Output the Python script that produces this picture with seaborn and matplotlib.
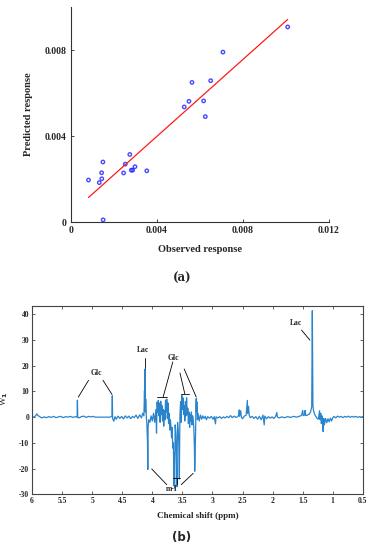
import numpy as np
import pandas as pd
import matplotlib
matplotlib.use("Agg")
import matplotlib.pyplot as plt
from matplotlib.ticker import FormatStrFormatter
import seaborn as sns

sns.set_style("ticks")
plt.rcParams['font.family'] = ['Liberation Serif', 'DejaVu Serif']
plt.rcParams['font.weight'] = 'bold'

# (a) observed vs predicted response
observed = [0.00082, 0.00132, 0.00143, 0.00144, 0.00149, 0.00150, 0.00245,
            0.00253, 0.00274, 0.00281, 0.00287, 0.00298, 0.00353, 0.00527,
            0.00549, 0.00563, 0.00617, 0.00625, 0.00650, 0.00707, 0.01008]
predicted = [0.00196, 0.00184, 0.00230, 0.00202, 0.00280, 0.00011, 0.00229,
             0.00270, 0.00315, 0.00242, 0.00242, 0.00258, 0.00239, 0.00536,
             0.00562, 0.00650, 0.00564, 0.00491, 0.00658, 0.00791, 0.00908]

# (b) loading spectrum W1 vs chemical shift
ppm = [6.00, 5.97, 5.94, 5.92, 5.90, 5.87, 5.84, 5.80, 5.76, 5.72, 5.68, 5.64,
       5.60, 5.56, 5.52, 5.48, 5.44, 5.40, 5.36, 5.32, 5.28, 5.25, 5.245, 5.24,
       5.22, 5.18, 5.14, 5.10, 5.06, 5.02, 4.99, 4.95, 4.70, 4.67, 4.665, 4.66,
       4.64, 4.62, 4.60, 4.57, 4.54, 4.51, 4.48, 4.45, 4.42, 4.39, 4.36, 4.33,
       4.30, 4.27, 4.24, 4.21, 4.18, 4.16, 4.14, 4.13, 4.125, 4.12, 4.115, 4.11,
       4.10, 4.09, 4.08, 4.075, 4.07, 4.06, 4.04, 4.02, 4.00, 3.98, 3.96, 3.94,
       3.93, 3.92, 3.91, 3.90, 3.89, 3.88, 3.87, 3.86, 3.85, 3.84, 3.83, 3.82,
       3.81, 3.80, 3.79, 3.78, 3.77, 3.76, 3.75, 3.74, 3.73, 3.72, 3.71, 3.70,
       3.69, 3.68, 3.67, 3.66, 3.65, 3.64, 3.635, 3.63, 3.62, 3.61, 3.60, 3.59,
       3.585, 3.58, 3.57, 3.56, 3.55, 3.545, 3.54, 3.53, 3.52, 3.51, 3.50, 3.49,
       3.48, 3.47, 3.46, 3.45, 3.44, 3.43, 3.42, 3.41, 3.40, 3.39, 3.38, 3.37,
       3.36, 3.35, 3.34, 3.33, 3.32, 3.31, 3.30, 3.295, 3.29, 3.28, 3.275, 3.27,
       3.265, 3.26, 3.25, 3.24, 3.22, 3.20, 3.18, 3.16, 3.14, 3.12, 3.10, 3.08,
       3.05, 3.02, 2.99, 2.97, 2.95, 2.94, 2.91, 2.88, 2.85, 2.82, 2.79, 2.76,
       2.73, 2.70, 2.67, 2.64, 2.61, 2.58, 2.56, 2.555, 2.55, 2.53, 2.52, 2.50,
       2.47, 2.44, 2.42, 2.415, 2.40, 2.39, 2.37, 2.34, 2.31, 2.28, 2.25, 2.22,
       2.19, 2.16, 2.14, 2.13, 2.10, 2.07, 2.04, 2.01, 1.98, 1.95, 1.93, 1.92,
       1.89, 1.85, 1.80, 1.75, 1.70, 1.65, 1.60, 1.55, 1.52, 1.50, 1.49, 1.47,
       1.46, 1.45, 1.42, 1.39, 1.37, 1.35, 1.34, 1.33, 1.32, 1.30, 1.28, 1.26,
       1.24, 1.22, 1.21, 1.20, 1.19, 1.18, 1.17, 1.16, 1.15, 1.14, 1.12, 1.10,
       1.08, 1.06, 1.04, 1.02, 1.00, 0.98, 0.95, 0.92, 0.89, 0.86, 0.83, 0.80,
       0.77, 0.74, 0.71, 0.68, 0.65, 0.62, 0.59, 0.56, 0.53, 0.50]
w1 = [0.2, 0.0, 0.5, 1.3, 0.6, 0.2, -0.3, 0.1, -0.2, 0.2, -0.1, 0.3,
      -0.2, 0.1, 0.3, -0.2, 0.2, 0.0, 0.3, -0.1, 0.2, 0.0, 6.6, 0.0,
      -0.3, 0.2, 0.4, -0.1, 0.3, 0.1, 0.3, 0.0, 0.0, 0.4, 8.3, -0.5,
      -1.6, 0.2, -0.8, 0.4, -0.5, 0.3, -0.7, 0.5, -0.3, 0.4, -0.6, 0.3,
      -0.2, 0.8, -0.5, 0.9, -0.3, 1.5, 0.5, 10.4, 3.0, 18.7, 2.0, 7.0,
      0.5, -3.0, -9.5, -20.3, -4.0, -1.0, -2.0, 0.5, -1.5, 1.5, -2.0, 3.0,
      -6.2, 5.8, 2.0, 6.5, 0.5, 5.5, -2.0, 6.2, 1.0, 4.5, -1.5, 3.0,
      -3.5, 2.5, -1.0, 6.6, 2.0, 7.0, -0.5, 5.5, -2.5, 1.5, -5.0, -1.0,
      -3.5, -8.0, -4.0, -12.0, -10.0, -26.5, -14.0, -27.5, -3.0, -6.0, -15.0, -27.0,
      -9.0, -2.0, -5.0, -10.0, -24.0, -8.0, 1.0, 6.0, -2.0, 8.5, 3.0, 7.5,
      1.0, 4.5, -1.5, 6.0, 0.5, 7.5, 1.0, 3.5, -2.5, 2.0, -4.0, 1.0,
      -1.5, 2.0, -3.0, 0.5, -1.0, -4.0, -12.0, -21.0, -16.0, -5.0, 4.0, 7.2,
      2.0, 6.0, -1.0, 1.5, -1.5, 0.8, -0.8, 0.5, -0.5, 0.3, -1.0, 0.2,
      -0.4, 0.3, -0.8, 0.2, -2.6, 0.1, -0.3, 0.2, -0.5, 0.1, -0.3, 0.3,
      -0.2, 0.6, -0.2, 0.4, -0.1, 0.2, 1.0, 2.8, 0.3, 2.5, 0.0, -0.6,
      0.4, 0.8, 6.5, 1.5, 4.2, 0.8, -0.2, 0.3, -0.5, 0.2, -0.8, 0.3,
      -1.0, 0.8, -3.0, 0.4, -0.6, 0.2, -0.4, 0.1, -0.5, 0.3, 1.8, 0.0,
      -0.3, 0.1, -0.2, 0.2, -0.1, 0.3, 0.0, 0.4, 0.6, 2.6, 0.6, 0.8,
      2.6, 0.6, 0.8, 1.2, 2.0, 4.0, 41.3, 4.5, 2.5, 1.0, 0.2, -0.5,
      -0.8, 2.5, -1.0, 1.5, -2.5, 0.5, -1.8, -5.6, -0.5, -3.0, -0.5, -2.2,
      -0.6, -1.8, -0.4, -1.5, -0.2, 0.3, -0.3, 0.4, 0.0, 0.3, -0.2, 0.3,
      0.0, 0.4, -0.1, 0.3, 0.0, 0.3, -0.1, 0.2, 0.0, 0.2]

# peak labels: text, text position (ppm, W1)
label_text = ["Glc", "Lac", "Glc", "m-I", "Lac"]
label_ppm = [4.93, 4.15, 3.65, 3.68, 1.61]
label_w = [17.1, 26.2, 23.1, -27.9, 36.4]

fig = plt.figure(figsize=(3.73, 5.5), dpi=100)

# ---- (a)
ax1 = fig.add_axes([0.190, 0.596, 0.692, 0.391])
sns.regplot(x=observed, y=predicted, ax=ax1, ci=None, truncate=True,
            scatter_kws=dict(s=6, facecolors='none', edgecolors='#1a1aff', linewidths=1.0),
            line_kws=dict(color='#ff1a1a', linewidth=0.9))
ax1.set_xlim(0, 0.012)
ax1.set_ylim(0, 0.01)
ax1.set_xticks([0, 0.004, 0.008, 0.012])
ax1.set_yticks([0, 0.004, 0.008])
ax1.xaxis.set_major_formatter(FormatStrFormatter('%g'))
ax1.yaxis.set_major_formatter(FormatStrFormatter('%g'))
sns.despine(ax=ax1)
for s in ['left', 'bottom']:
    ax1.spines[s].set_color('#333333')
    ax1.spines[s].set_linewidth(0.8)
ax1.tick_params(direction='in', length=2.5, width=0.6, labelsize=7, pad=3)
for t in ax1.get_xticklabels() + ax1.get_yticklabels():
    t.set_fontweight('bold')
ax1.set_xlabel("Observed response", fontsize=7.5, fontweight='bold')
ax1.set_ylabel("Predicted response", fontsize=7.5, fontweight='bold')
ax1.xaxis.set_label_coords(0.5, -0.107)
ax1.yaxis.set_label_coords(-0.147, 0.5)
fig.text(0.488, 0.494, "(a)", ha='center', va='center', fontsize=8.5,
         fontweight='bold', family=['DejaVu Serif'])

# ---- (b)
spec = pd.DataFrame({"ppm": ppm, "w1": w1})
ax2 = fig.add_axes([0.0858, 0.101, 0.887, 0.342])
sns.lineplot(data=spec, x="ppm", y="w1", ax=ax2, estimator=None,
             color='#2a84cc', linewidth=0.9)
ax2.set_xlim(6, 0.5)
ax2.set_ylim(-30, 43)
ax2.set_xticks([6, 5.5, 5, 4.5, 4, 3.5, 3, 2.5, 2, 1.5, 1, 0.5])
ax2.set_yticks([-30, -20, -10, 0, 10, 20, 30, 40])
ax2.xaxis.set_major_formatter(FormatStrFormatter('%g'))
ax2.yaxis.set_major_formatter(FormatStrFormatter('%g'))
for s in ax2.spines.values():
    s.set_color('#444444')
    s.set_linewidth(0.8)
ax2.tick_params(direction='in', length=2, width=0.5, labelsize=5.5,
                top=True, right=True, pad=2)
for t in ax2.get_xticklabels() + ax2.get_yticklabels():
    t.set_fontweight('bold')
ax2.set_xlabel("Chemical shift (ppm)", fontsize=6.5, fontweight='bold')
ax2.set_ylabel("W$_1$", fontsize=6.5)
ax2.xaxis.set_label_coords(0.5, -0.094)
ax2.yaxis.set_label_coords(-0.066, 0.51)

for txt, xp, yp in zip(label_text, label_ppm, label_w):
    ax2.text(xp, yp, txt, ha='center', va='center', fontsize=5.5, fontweight='bold')

# leader lines to the peaks
lk = dict(color='black', linewidth=0.6)
ax2.plot([5.06, 5.23], [14.3, 7.8], **lk)
ax2.plot([4.82, 4.67], [14.3, 8.8], **lk)
ax2.plot([4.12, 4.12], [23.1, 19.2], **lk)
ax2.plot([3.66, 3.82], [21.4, 7.8], **lk)
ax2.plot([3.92, 3.75], [7.8, 7.8], **lk)
ax2.plot([3.54, 3.46], [17.1, 9.1], **lk)
ax2.plot([3.52, 3.39], [9.1, 9.1], **lk)
ax2.plot([3.47, 3.27], [18.7, 7.8], **lk)
ax2.plot([4.01, 3.76], [-20.1, -26.2], **lk)
ax2.plot([3.65, 3.54], [-23.8, -23.8], **lk)
ax2.plot([3.595, 3.595], [-23.8, -26.0], **lk)
ax2.plot([3.52, 3.32], [-26.2, -21.8], **lk)
ax2.plot([1.52, 1.38], [33.8, 29.9], **lk)

fig.text(0.488, 0.022, "(b)", ha='center', va='center', fontsize=8.5,
         fontweight='bold', family=['DejaVu Sans'])

fig.savefig("out.png", dpi=100)
